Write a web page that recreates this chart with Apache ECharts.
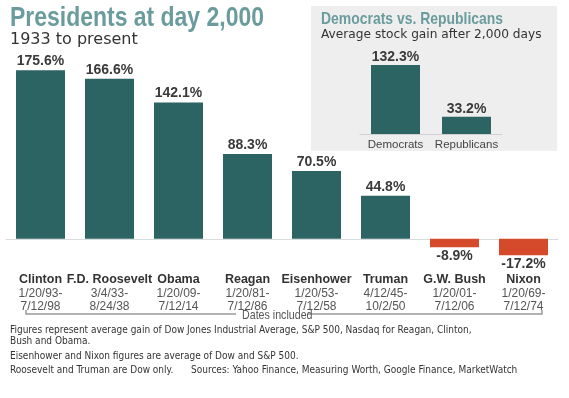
<!DOCTYPE html>
<html>
<head>
<meta charset="utf-8">
<script src="https://cdn.jsdelivr.net/npm/echarts@6/dist/echarts.min.js"></script>
<style>
  html, body { margin: 0; padding: 0; background: #fff; }
  #chart { width: 569px; height: 398px; }
</style>
</head>
<body>
<div id="chart"></div>
<script>
// presidents at day 2,000
const presidents = ['Clinton', 'F.D. Roosevelt', 'Obama', 'Reagan', 'Eisenhower', 'Truman', 'G.W. Bush', 'Nixon'];
const startDates = ['1/20/93-', '3/4/33-', '1/20/09-', '1/20/81-', '1/20/53-', '4/12/45-', '1/20/01-', '1/20/69-'];
const endDates = ['7/12/98', '8/24/38', '7/12/14', '7/12/86', '7/12/58', '10/2/50', '7/12/06', '7/12/74'];
const gains = [175.6, 166.6, 142.1, 88.3, 70.5, 44.8, -8.9, -17.2];

// inset: party averages
const parties = ['Democrats', 'Republicans'];
const partyGains = [132.3, 33.2];

const notes = [
  'Figures represent average gain of Dow Jones Industrial Average, S&P 500, Nasdaq for Reagan, Clinton,',
  'Bush and Obama.',
  'Eisenhower and Nixon figures are average of Dow and S&P 500.',
  'Roosevelt and Truman are Dow only.'
];
const sources = 'Sources: Yahoo Finance, Measuring Worth, Google Finance, MarketWatch';

const TEAL = '#2b6462';
const RED = '#d44a2a';
const TITLE = '#6b9c9d';
const SANS = '"Liberation Sans", Arial, sans-serif';
const NOTE_FONT = '"DejaVu Sans Condensed", "DejaVu Sans", sans-serif';

const chart = echarts.init(document.getElementById('chart'), null, { renderer: 'canvas' });

const mainData = gains.map(v => ({
  value: v,
  itemStyle: { color: v < 0 ? RED : TEAL },
  label: { position: v < 0 ? 'bottom' : 'top' }
}));

const noteTexts = [
  { text: notes[0], x: 10, y: 330 },
  { text: notes[1], x: 10, y: 341 },
  { text: notes[2], x: 10, y: 356 },
  { text: notes[3], x: 10, y: 370 },
  { text: sources, x: 191, y: 370 }
].map(n => ({
  type: 'text', x: n.x, y: n.y,
  style: { text: n.text, font: '10px ' + NOTE_FONT, fill: '#333', textVerticalAlign: 'middle' }
}));

chart.setOption({
  animation: false,
  backgroundColor: '#fff',
  graphic: [
    { type: 'rect', z: -10, shape: { x: 311, y: 6, width: 246, height: 145 }, style: { fill: '#eeeeee' } },
    { type: 'text', x: 10, y: 18, scaleX: 0.82, style: { text: 'Presidents at day 2,000', font: 'bold 28px ' + SANS, fill: TITLE, textVerticalAlign: 'middle' } },
    { type: 'text', x: 10, y: 40, style: { text: '1933 to present', font: '16px "DejaVu Sans", sans-serif', fill: '#333', textVerticalAlign: 'middle' } },
    { type: 'text', x: 321, y: 19, scaleX: 0.82, style: { text: 'Democrats vs. Republicans', font: 'bold 17px ' + SANS, fill: TITLE, textVerticalAlign: 'middle' } },
    { type: 'text', x: 321, y: 35, style: { text: 'Average stock gain after 2,000 days', font: '12.2px "DejaVu Sans", sans-serif', fill: '#333', textVerticalAlign: 'middle' } },
    // dates included bracket
    { type: 'polyline', shape: { points: [[26, 310], [26, 314], [236, 314]] }, style: { stroke: '#999', lineWidth: 1.5, fill: null } },
    { type: 'polyline', shape: { points: [[308, 314], [542, 314], [542, 310]] }, style: { stroke: '#999', lineWidth: 1.5, fill: null } },
    { type: 'text', x: 242, y: 315, scaleX: 0.82, style: { text: 'Dates included', font: '13px ' + SANS, fill: '#555', textVerticalAlign: 'middle' } }
  ].concat(noteTexts),
  grid: [
    { left: 6, right: 11, top: 66, height: 192 },
    { left: 360, width: 142, top: 61, height: 73 }
  ],
  xAxis: [
    {
      type: 'category', gridIndex: 0, data: presidents,
      axisLine: { onZero: true, lineStyle: { color: '#d6dcdc', width: 1 } },
      axisTick: { show: false },
      axisLabel: {
        margin: 15, interval: 0,
        formatter: (v, i) => '{n|' + v + '}\n{d|' + startDates[i] + '}\n{d|' + endDates[i] + '}',
        rich: {
          n: { fontFamily: SANS, fontSize: 12.5, fontWeight: 'bold', color: '#333', lineHeight: 14, align: 'center' },
          d: { fontFamily: SANS, fontSize: 12, color: '#555', lineHeight: 13, align: 'center' }
        }
      }
    },
    {
      type: 'category', gridIndex: 1, data: parties,
      axisLine: { lineStyle: { color: '#d0d0d0', width: 1 } },
      axisTick: { show: false },
      axisLabel: { margin: 5, interval: 0, fontFamily: SANS, fontSize: 11.5, color: '#444' }
    }
  ],
  yAxis: [
    { type: 'value', gridIndex: 0, min: -20, max: 180, show: false, splitLine: { show: false } },
    { type: 'value', gridIndex: 1, min: 0, max: 140, show: false, splitLine: { show: false } }
  ],
  series: [
    {
      type: 'bar', xAxisIndex: 0, yAxisIndex: 0, data: mainData, barWidth: 49,
      label: {
        show: true, distance: 2, formatter: p => p.value + '%',
        fontFamily: SANS, fontSize: 14, fontWeight: 'bold', color: '#3a3a3a'
      }
    },
    {
      type: 'bar', xAxisIndex: 1, yAxisIndex: 1, data: partyGains, barWidth: 49,
      itemStyle: { color: TEAL },
      label: {
        show: true, position: 'top', distance: 1, formatter: p => p.value + '%',
        fontFamily: SANS, fontSize: 14, fontWeight: 'bold', color: '#3a3a3a'
      }
    }
  ]
});
</script>
</body>
</html>
